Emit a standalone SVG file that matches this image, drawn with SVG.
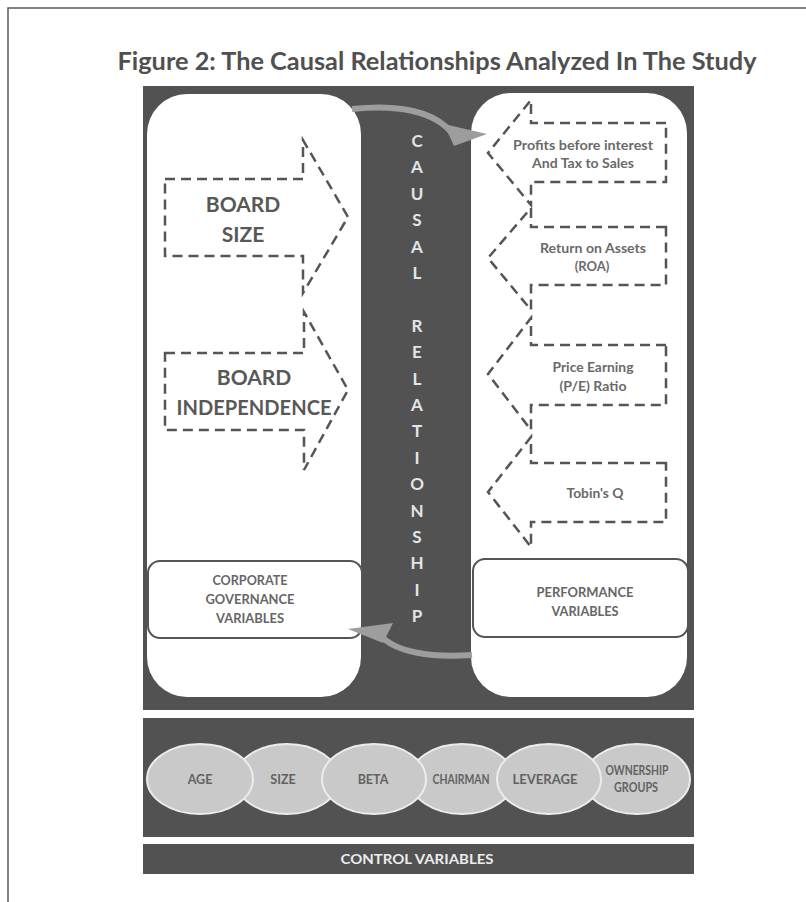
<svg xmlns="http://www.w3.org/2000/svg" width="806" height="902" viewBox="0 0 806 902">
<defs>
<style>
.t{font-family:Lato,"Open Sans","Liberation Sans",sans-serif;font-weight:bold;text-anchor:middle}
.title{font-size:24px;fill:#505050}
.big{font-size:21px;fill:#585858}
.sm{font-size:13px;fill:#6a6a6a}
.cap{font-size:12.5px;fill:#666}
.vt{font-size:17px;fill:#e4e4e4}
.el{font-size:12.5px;fill:#626262}
.dash{fill:none;stroke:#555;stroke-width:2.5;stroke-dasharray:10 6}
.ell{fill:#c9c9c9;stroke:#ececec;stroke-width:2}
.box{fill:#fff;stroke:#555;stroke-width:2}
.band{fill:none;stroke:#9d9d9d;stroke-width:6;stroke-linecap:butt}
.head{fill:#9d9d9d}
.dark{fill:#525252}
</style>
</defs>
<rect x="0" y="0" width="806" height="902" fill="#fff"/>
<rect x="8" y="8" width="830" height="930" fill="none" stroke="#5a5a5a" stroke-width="1.5"/>
<text class="t title" x="437" y="70" textLength="639" lengthAdjust="spacingAndGlyphs">Figure 2: The Causal Relationships Analyzed In The Study</text>

<g id="main-panel">
<rect class="dark" x="143" y="86" width="551" height="624"/>
</g>

<g id="cg-panel">
<rect x="147" y="94" width="214" height="603" rx="40" fill="#fff"/>
</g>
<g id="perf-panel">
<rect x="471" y="93" width="216" height="604" rx="40" fill="#fff"/>
</g>

<g id="board-size">
<path class="dash" d="M165 179 H303 V140 L348 217 L303 293 V256 H165 Z"/>
<text class="t big" x="243" y="212">BOARD</text>
<text class="t big" x="243" y="242">SIZE</text>
</g>
<g id="board-independence">
<path class="dash" d="M165 353 H304 V312 L348 390 L304 470 V430 H165 Z"/>
<text class="t big" x="254" y="385">BOARD</text>
<text class="t big" x="254" y="415" textLength="155" lengthAdjust="spacingAndGlyphs">INDEPENDENCE</text>
</g>

<g id="pbit">
<path class="dash" d="M666 123 H531 V100 L488 153 L531 205 V182 H666 Z"/>
<text class="t sm" x="583" y="150" textLength="140" lengthAdjust="spacingAndGlyphs">Profits before interest</text>
<text class="t sm" x="583" y="168" textLength="102" lengthAdjust="spacingAndGlyphs">And Tax to Sales</text>
</g>
<g id="roa">
<path class="dash" d="M666 227 H531 V208 L488 258 L531 310 V285 H666 Z"/>
<text class="t sm" x="593" y="253" textLength="106" lengthAdjust="spacingAndGlyphs">Return on Assets</text>
<text class="t sm" x="592" y="271">(ROA)</text>
</g>
<g id="pe">
<path class="dash" d="M666 345 H531 V318 L488 374 L531 430 V405 H666 Z"/>
<text class="t sm" x="593" y="372" textLength="81" lengthAdjust="spacingAndGlyphs">Price Earning</text>
<text class="t sm" x="593" y="391" textLength="67" lengthAdjust="spacingAndGlyphs">(P/E) Ratio</text>
</g>
<g id="tobin">
<path class="dash" d="M666 463 H531 V437 L488 492 L531 547 V522 H666 Z"/>
<text class="t sm" x="595" y="498" textLength="57" lengthAdjust="spacingAndGlyphs">Tobin's Q</text>
</g>

<g id="cg-vars">
<rect class="box" x="148" y="561" width="214" height="77" rx="12"/>
<text class="t cap" x="250" y="585" textLength="75" lengthAdjust="spacingAndGlyphs">CORPORATE</text>
<text class="t cap" x="250" y="604" textLength="89" lengthAdjust="spacingAndGlyphs">GOVERNANCE</text>
<text class="t cap" x="250" y="623" textLength="68" lengthAdjust="spacingAndGlyphs">VARIABLES</text>
</g>
<g id="perf-vars">
<rect class="box" x="473" y="559" width="215" height="78" rx="12"/>
<text class="t cap" x="585" y="597" textLength="97" lengthAdjust="spacingAndGlyphs">PERFORMANCE</text>
<text class="t cap" x="585" y="616" textLength="67" lengthAdjust="spacingAndGlyphs">VARIABLES</text>
</g>

<g id="causal-relationship">
<text class="t vt" x="417" y="147">C</text>
<text class="t vt" x="417" y="173">A</text>
<text class="t vt" x="417" y="200">U</text>
<text class="t vt" x="417" y="226">S</text>
<text class="t vt" x="417" y="253">A</text>
<text class="t vt" x="417" y="279">L</text>
<text class="t vt" x="417" y="332">R</text>
<text class="t vt" x="417" y="358">E</text>
<text class="t vt" x="417" y="385">L</text>
<text class="t vt" x="417" y="411">A</text>
<text class="t vt" x="417" y="437">T</text>
<text class="t vt" x="417" y="464">I</text>
<text class="t vt" x="417" y="490">O</text>
<text class="t vt" x="417" y="517">N</text>
<text class="t vt" x="417" y="543">S</text>
<text class="t vt" x="417" y="569">H</text>
<text class="t vt" x="417" y="596">I</text>
<text class="t vt" x="417" y="622">P</text>
</g>

<g id="connectors">
<path class="band" d="M352 109 C400 104 435 112 452 133"/>
<polygon class="head" points="487,134 444,124 454,146"/>
<path class="band" d="M472 655 C430 658 395 652 380 635"/>
<polygon class="head" points="348,629 393,623 383,643"/>
</g>

<g id="control-panel">
<rect class="dark" x="143" y="718" width="551" height="119"/>
</g>
<g id="size"><ellipse class="ell" cx="287" cy="779" rx="52" ry="35"/><text class="t el" x="283" y="784">SIZE</text></g>
<g id="chairman"><ellipse class="ell" cx="462" cy="779" rx="52" ry="35"/><text class="t el" x="461" y="784" textLength="57" lengthAdjust="spacingAndGlyphs">CHAIRMAN</text></g>
<g id="ownership"><ellipse class="ell" cx="637" cy="779" rx="53" ry="35"/><text class="t el" x="637" y="775" textLength="63" lengthAdjust="spacingAndGlyphs">OWNERSHIP</text><text class="t el" x="636" y="792" textLength="44" lengthAdjust="spacingAndGlyphs">GROUPS</text></g>
<g id="age"><ellipse class="ell" cx="200" cy="779" rx="53" ry="35"/><text class="t el" x="200" y="784">AGE</text></g>
<g id="beta"><ellipse class="ell" cx="374" cy="779" rx="52" ry="35"/><text class="t el" x="373" y="784">BETA</text></g>
<g id="leverage"><ellipse class="ell" cx="549" cy="779" rx="52" ry="35"/><text class="t el" x="545" y="784" textLength="65" lengthAdjust="spacingAndGlyphs">LEVERAGE</text></g>

<g id="control-variables">
<rect class="dark" x="143" y="844" width="551" height="30"/>
<text class="t" x="417" y="864" font-size="14" fill="#ececec" textLength="153" lengthAdjust="spacingAndGlyphs">CONTROL VARIABLES</text>
</g>
</svg>
